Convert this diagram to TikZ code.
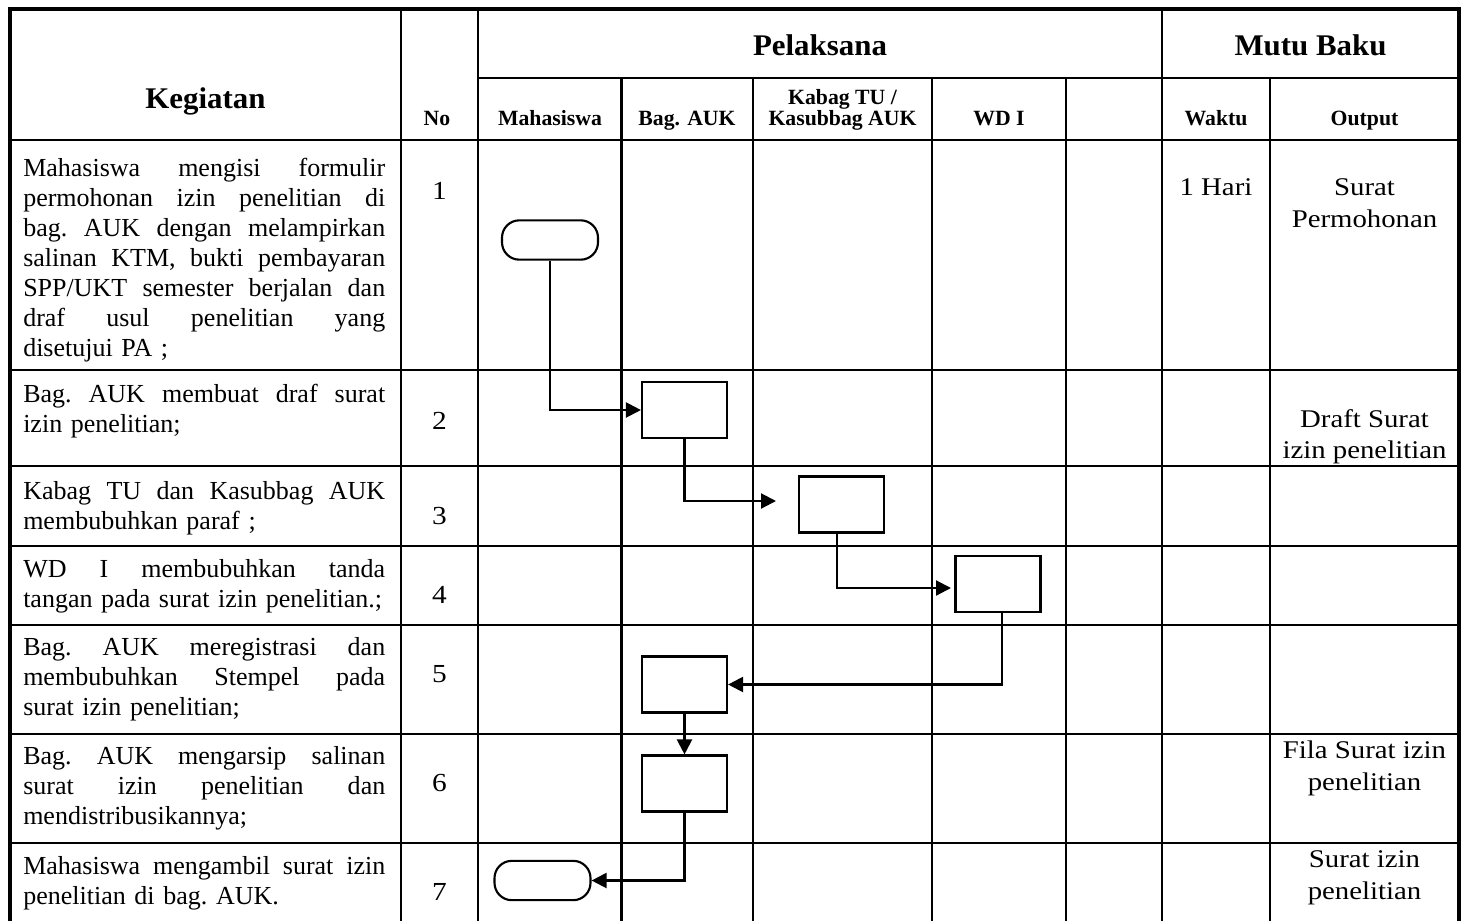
\documentclass[tikz,border=0pt]{standalone}
\usepackage{fontspec}
\setmainfont{Liberation Serif}
\newfontfamily\camb[FakeStretch=1.13]{Liberation Serif}
\newfontfamily\cambh[FakeStretch=1.03]{Liberation Serif}
\usetikzlibrary{arrows.meta}
\newcommand{\jl}[1]{\makebox[271.5pt][s]{\spaceskip=0pt\xspaceskip=0pt #1}}
\begin{document}
\begin{tikzpicture}[x=0.75pt,y=-0.75pt,
  grid/.style={line width=1.7pt},
  outer/.style={line width=2.6pt},
  body/.style={font=\fontsize{19.5pt}{22.5pt}\selectfont\frenchspacing, anchor=base west, inner sep=0pt, text width=300pt, align=left},
  hdr/.style={font=\cambh\bfseries\fontsize{22.5pt}{26pt}\selectfont, anchor=base, inner sep=0pt},
  sub/.style={font=\bfseries\fontsize{16.3pt}{17pt}\selectfont, anchor=base, inner sep=0pt},
  num/.style={font=\camb\fontsize{19.5pt}{22pt}\selectfont, anchor=base, inner sep=0pt},
  outp/.style={font=\camb\fontsize{19.1pt}{23.6pt}\selectfont, anchor=base, inner sep=0pt},
  box/.style={draw, line width=1.6pt, minimum width=63.75pt, minimum height=42pt, inner sep=0pt},
  term/.style={draw, line width=1.6pt, rounded corners=13pt, minimum width=72pt, minimum height=29.5pt, inner sep=0pt},
  flow/.style={line width=1.6pt, -{Triangle[length=11.25pt,width=11.25pt]}}
]
\useasboundingbox[fill=white] (0,0) rectangle (1467,921);
% table grid
\draw[grid] (478,78) -- (1459,78);
\foreach \yy in {140,370,466,546,625,734,843} \draw[grid] (10,\yy) -- (1459,\yy);
\foreach \xx in {401,478,1162} \draw[grid] (\xx,9) -- (\xx,921);
\foreach \xx in {621.5,753,932,1066,1270} \draw[grid] (\xx,78) -- (\xx,921);
\draw[outer] (10,921) -- (10,9) -- (1459,9) -- (1459,921);
% headers
\node[hdr] (hkeg) at (205.5,108) {Kegiatan};
\node[sub] (hno) at (437,125) {No};
\node[hdr] (hpel) at (820,55) {Pelaksana};
\node[hdr] (hmutu) at (1310.5,55) {Mutu Baku};
\node[sub] (hmhs) at (550,125) {Mahasiswa};
\node[sub] (hbag) at (687,125) {Bag. AUK};
\node[sub] (hkab1) at (842.5,104) {Kabag TU /};
\node[sub] (hkab2) at (842.5,125) {Kasubbag AUK};
\node[sub] (hwd) at (999,125) {WD I};
\node[sub] (hwak) at (1216,125) {Waktu};
\node[sub] (hout) at (1364.5,125) {Output};
% kegiatan
\node[body] (k1) at (23,176) {\jl{Mahasiswa mengisi formulir}\\ \jl{permohonan izin penelitian di}\\ \jl{bag. AUK dengan melampirkan}\\ \jl{salinan KTM, bukti pembayaran}\\ \jl{SPP/UKT semester berjalan dan}\\ \jl{draf usul penelitian yang}\\ disetujui PA ;};
\node[body] (k2) at (23,402) {\jl{Bag. AUK membuat draf surat}\\ izin penelitian;};
\node[body] (k3) at (23,499) {\jl{Kabag TU dan Kasubbag AUK}\\ membubuhkan paraf ;};
\node[body] (k4) at (23,577) {\jl{WD I membubuhkan tanda}\\ tangan pada surat izin penelitian.;};
\node[body] (k5) at (23,655) {\jl{Bag. AUK meregistrasi dan}\\ \jl{membubuhkan Stempel pada}\\ surat izin penelitian;};
\node[body] (k6) at (23,764) {\jl{Bag. AUK mengarsip salinan}\\ \jl{surat izin penelitian dan}\\ mendistribusikannya;};
\node[body] (k7) at (23,874) {\jl{Mahasiswa mengambil surat izin}\\ penelitian di bag. AUK.};
% numbers
\node[num] (n1) at (439.5,199) {1};
\node[num] (n2) at (439.5,429) {2};
\node[num] (n3) at (439.5,524) {3};
\node[num] (n4) at (439.5,603) {4};
\node[num] (n5) at (439.5,682) {5};
\node[num] (n6) at (439.5,791) {6};
\node[num] (n7) at (439.5,900) {7};
% mutu baku
\node[outp] (w1) at (1216,195) {1 Hari};
\node[outp] (o1a) at (1364.5,195) {Surat};
\node[outp] (o1b) at (1364.5,227) {Permohonan};
\node[outp] (o2a) at (1364.5,427) {Draft Surat};
\node[outp] (o2b) at (1364.5,458) {izin penelitian};
\node[outp] (o6a) at (1364.5,758) {Fila Surat izin};
\node[outp] (o6b) at (1364.5,790) {penelitian};
\node[outp] (o7a) at (1364.5,867) {Surat izin};
\node[outp] (o7b) at (1364.5,899) {penelitian};
% flow
\node[term] (t1) at (550,240) {};
\node[box] (b2) at (684.5,410) {};
\node[box] (b3) at (841.5,504.5) {};
\node[box] (b4) at (998,584) {};
\node[box] (b5) at (684.5,684.5) {};
\node[box] (b6) at (684.5,783.5) {};
\node[term] (t7) at (542.5,880.5) {};
\coordinate (a3) at (776,501);
\coordinate (a4) at (951,588);
\draw[flow] (t1.south) |- (b2.west);
\draw[flow] (b2.south) |- (a3);
\draw[flow] ([xshift=-3.3pt]b3.south) |- (a4);
\draw[flow] ([xshift=3pt]b4.south) |- (b5.east);
\draw[flow] (b5.south) -- (b6.north);
\draw[flow] (b6.south) |- (t7.east);
\end{tikzpicture}
\end{document}
